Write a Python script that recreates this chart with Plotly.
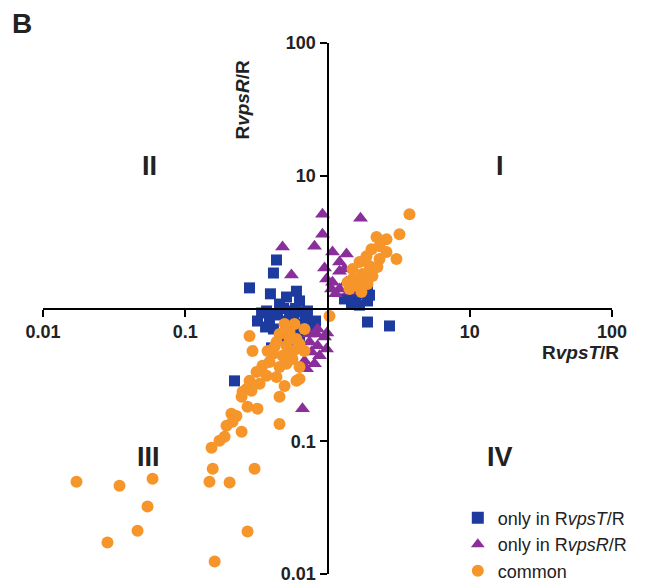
import plotly.graph_objects as go

# only in RvpsT/R (blue squares)
t_only_x = [0.438, 0.417, 0.283, 0.397, 0.605, 0.515, 0.460, 0.636, 0.373, 0.541, 0.656, 0.344,
            0.391, 0.445, 0.507, 0.577, 0.656, 0.367, 0.417, 0.541, 0.615, 0.700, 0.747, 0.460,
            0.524, 0.636, 0.322, 0.491, 0.596, 0.723, 0.824,
            1.428, 1.574, 1.733, 1.910, 1.475, 1.678, 1.910, 1.316, 1.973, 1.574, 1.790,
            1.910, 2.728, 0.222, 0.404]
t_only_y = [2.32, 1.85, 1.43, 1.29, 1.35, 1.22, 1.08, 1.14, 0.958, 0.958, 0.941, 0.925,
            0.834, 0.894, 0.805, 0.863, 0.765, 0.726, 0.701, 0.701, 0.654, 0.834, 0.701, 0.611,
            0.570, 0.590, 0.805, 1.0, 1.0, 0.958, 0.805,
            1.29, 1.18, 1.29, 1.40, 1.08, 1.06, 1.14, 1.18, 1.26, 1.40, 1.53,
            0.791, 0.739, 0.285, 0.505]

# only in RvpsR/R (purple triangles)
r_only_x = [0.922, 1.706, 0.922, 0.810, 0.483, 0.558, 1.084, 1.360, 0.953, 0.984, 1.214, 1.084,
            1.360, 1.214, 1.067, 1.428, 1.499, 1.214, 1.316, 1.138,
            0.837, 0.953, 0.747, 0.851, 0.984, 0.772, 0.879, 0.689, 0.810, 0.712, 0.990,
            0.656, 0.667, 0.851, 0.747]
r_only_y = [5.13, 4.79, 3.63, 2.95, 2.90, 1.79, 2.66, 2.57, 2.02, 1.67, 1.91, 1.58,
            1.58, 1.40, 1.40, 1.35, 1.67, 2.24, 1.98, 1.29,
            0.643, 0.611, 0.560, 0.523, 0.496, 0.471, 0.440, 0.403, 0.383, 0.351, 0.654,
            0.370, 0.176, 0.701, 0.643]

# common (orange circles)
common_x = [3.770, 3.206, 3.054, 2.598, 2.210, 2.038, 1.879, 2.320, 1.678, 1.973, 1.499, 1.762,
            1.499, 2.071, 1.625, 1.910, 1.428, 1.733, 2.320, 2.598, 2.245, 1.383, 1.678, 1.033,
            0.283, 0.297, 0.460, 0.541, 0.605, 0.438, 0.515, 0.605, 0.411, 0.483, 0.567, 0.391,
            0.460, 0.349, 0.636, 0.317, 0.373, 0.438, 0.283, 0.333, 0.636, 0.499, 0.270, 0.460,
            0.249, 0.274, 0.322, 0.229, 0.292, 0.211, 0.215, 0.195, 0.249, 0.189, 0.174, 0.153,
            0.460, 0.605, 0.253, 0.499, 0.586, 0.689, 0.541, 0.636, 0.424, 0.558, 0.689, 0.515,
            0.379,
            0.0172, 0.0345, 0.0589, 0.0543, 0.0462, 0.0284, 0.156, 0.148, 0.205, 0.307, 0.274,
            0.161]
common_y = [5.13, 3.63, 2.36, 3.33, 3.45, 2.80, 2.48, 2.95, 2.24, 2.09, 1.98, 1.82,
            1.67, 1.76, 1.48, 1.53, 1.40, 1.33, 2.36, 2.66, 2.05, 1.58, 1.67, 0.879,
            0.621, 0.479, 0.643, 0.666, 0.590, 0.560, 0.523, 0.496, 0.455, 0.440, 0.417, 0.396,
            0.363, 0.370, 0.363, 0.333, 0.311, 0.305, 0.285, 0.271, 0.295, 0.261, 0.248, 0.216,
            0.216, 0.182, 0.176, 0.155, 0.240, 0.161, 0.140, 0.131, 0.118, 0.108, 0.101, 0.0893,
            0.135, 0.285, 0.236, 0.765, 0.765, 0.701, 0.590, 0.541, 0.514, 0.455, 0.479, 0.383,
            0.479,
            0.0496, 0.0463, 0.0522, 0.0322, 0.0212, 0.0173, 0.0621, 0.0496, 0.0488, 0.0621, 0.0209,
            0.0124]

tick_vals = [0.01, 0.1, 10, 100]
tick_text = ["0.01", "0.1", "10", "100"]

BLUE = "#1d3a9e"
PURPLE = "#8a2e9c"
ORANGE = "#f5952a"

fig = go.Figure()
fig.add_trace(go.Scatter(x=t_only_x, y=t_only_y, mode="markers", name="only in R<i>vpsT</i>/R",
                         marker=dict(symbol="square", size=11, color=BLUE)))
fig.add_trace(go.Scatter(x=r_only_x, y=r_only_y, mode="markers", name="only in R<i>vpsR</i>/R",
                         marker=dict(symbol="triangle-up", size=13, color=PURPLE)))
fig.add_trace(go.Scatter(x=common_x, y=common_y, mode="markers", name="common",
                         marker=dict(symbol="circle", size=12, color=ORANGE)))

axis_common = dict(type="log", range=[-2, 2], showgrid=False, zeroline=False,
                   showline=True, linecolor="black", linewidth=2,
                   ticks="outside", ticklen=7, tickwidth=2, tickcolor="black",
                   tickvals=tick_vals, ticktext=["<b>%s</b>" % t for t in tick_text],
                   tickfont=dict(family="Liberation Sans, Arial", size=18, color="#222"),
                   anchor="free", position=0.5, automargin=False)
# the page body adds an 8px offset, so margins are shifted accordingly
fig.update_layout(
    width=649, height=582,
    margin=dict(l=35, r=45, t=35, b=16, autoexpand=False),
    plot_bgcolor="white", paper_bgcolor="white",
    xaxis=axis_common,
    yaxis=axis_common,
    showlegend=True,
    legend=dict(x=0.729, y=0.140, xanchor="left", yanchor="top",
                font=dict(family="Liberation Sans, Arial", size=18, color="#222"),
                itemsizing="constant", tracegroupgap=0, bgcolor="rgba(0,0,0,0)"),
)

ann_font = dict(family="Liberation Sans, Arial", color="#222")
annotations = [
    dict(text="<b>B</b>", x=-0.037, y=1.036, size=28),
    dict(text="<b>I</b>", x=0.803, y=0.768, size=27),
    dict(text="<b>II</b>", x=0.188, y=0.768, size=27),
    dict(text="<b>III</b>", x=0.185, y=0.220, size=27),
    dict(text="<b>IV</b>", x=0.803, y=0.220, size=27),
    dict(text="<b>R<i>vpsT</i>/R</b>", x=0.945, y=0.418, size=19),
]
for a in annotations:
    fig.add_annotation(text=a["text"], x=a["x"], y=a["y"], xref="paper", yref="paper",
                       showarrow=False, font=dict(size=a["size"], **ann_font),
                       xanchor="center", yanchor="middle")
fig.add_annotation(text="<b>R<i>vpsR</i>/R</b>", x=0.351, y=0.893, xref="paper", yref="paper",
                   showarrow=False, textangle=-90, font=dict(size=19, **ann_font),
                   xanchor="center", yanchor="middle")

fig.write_html("out.html")
